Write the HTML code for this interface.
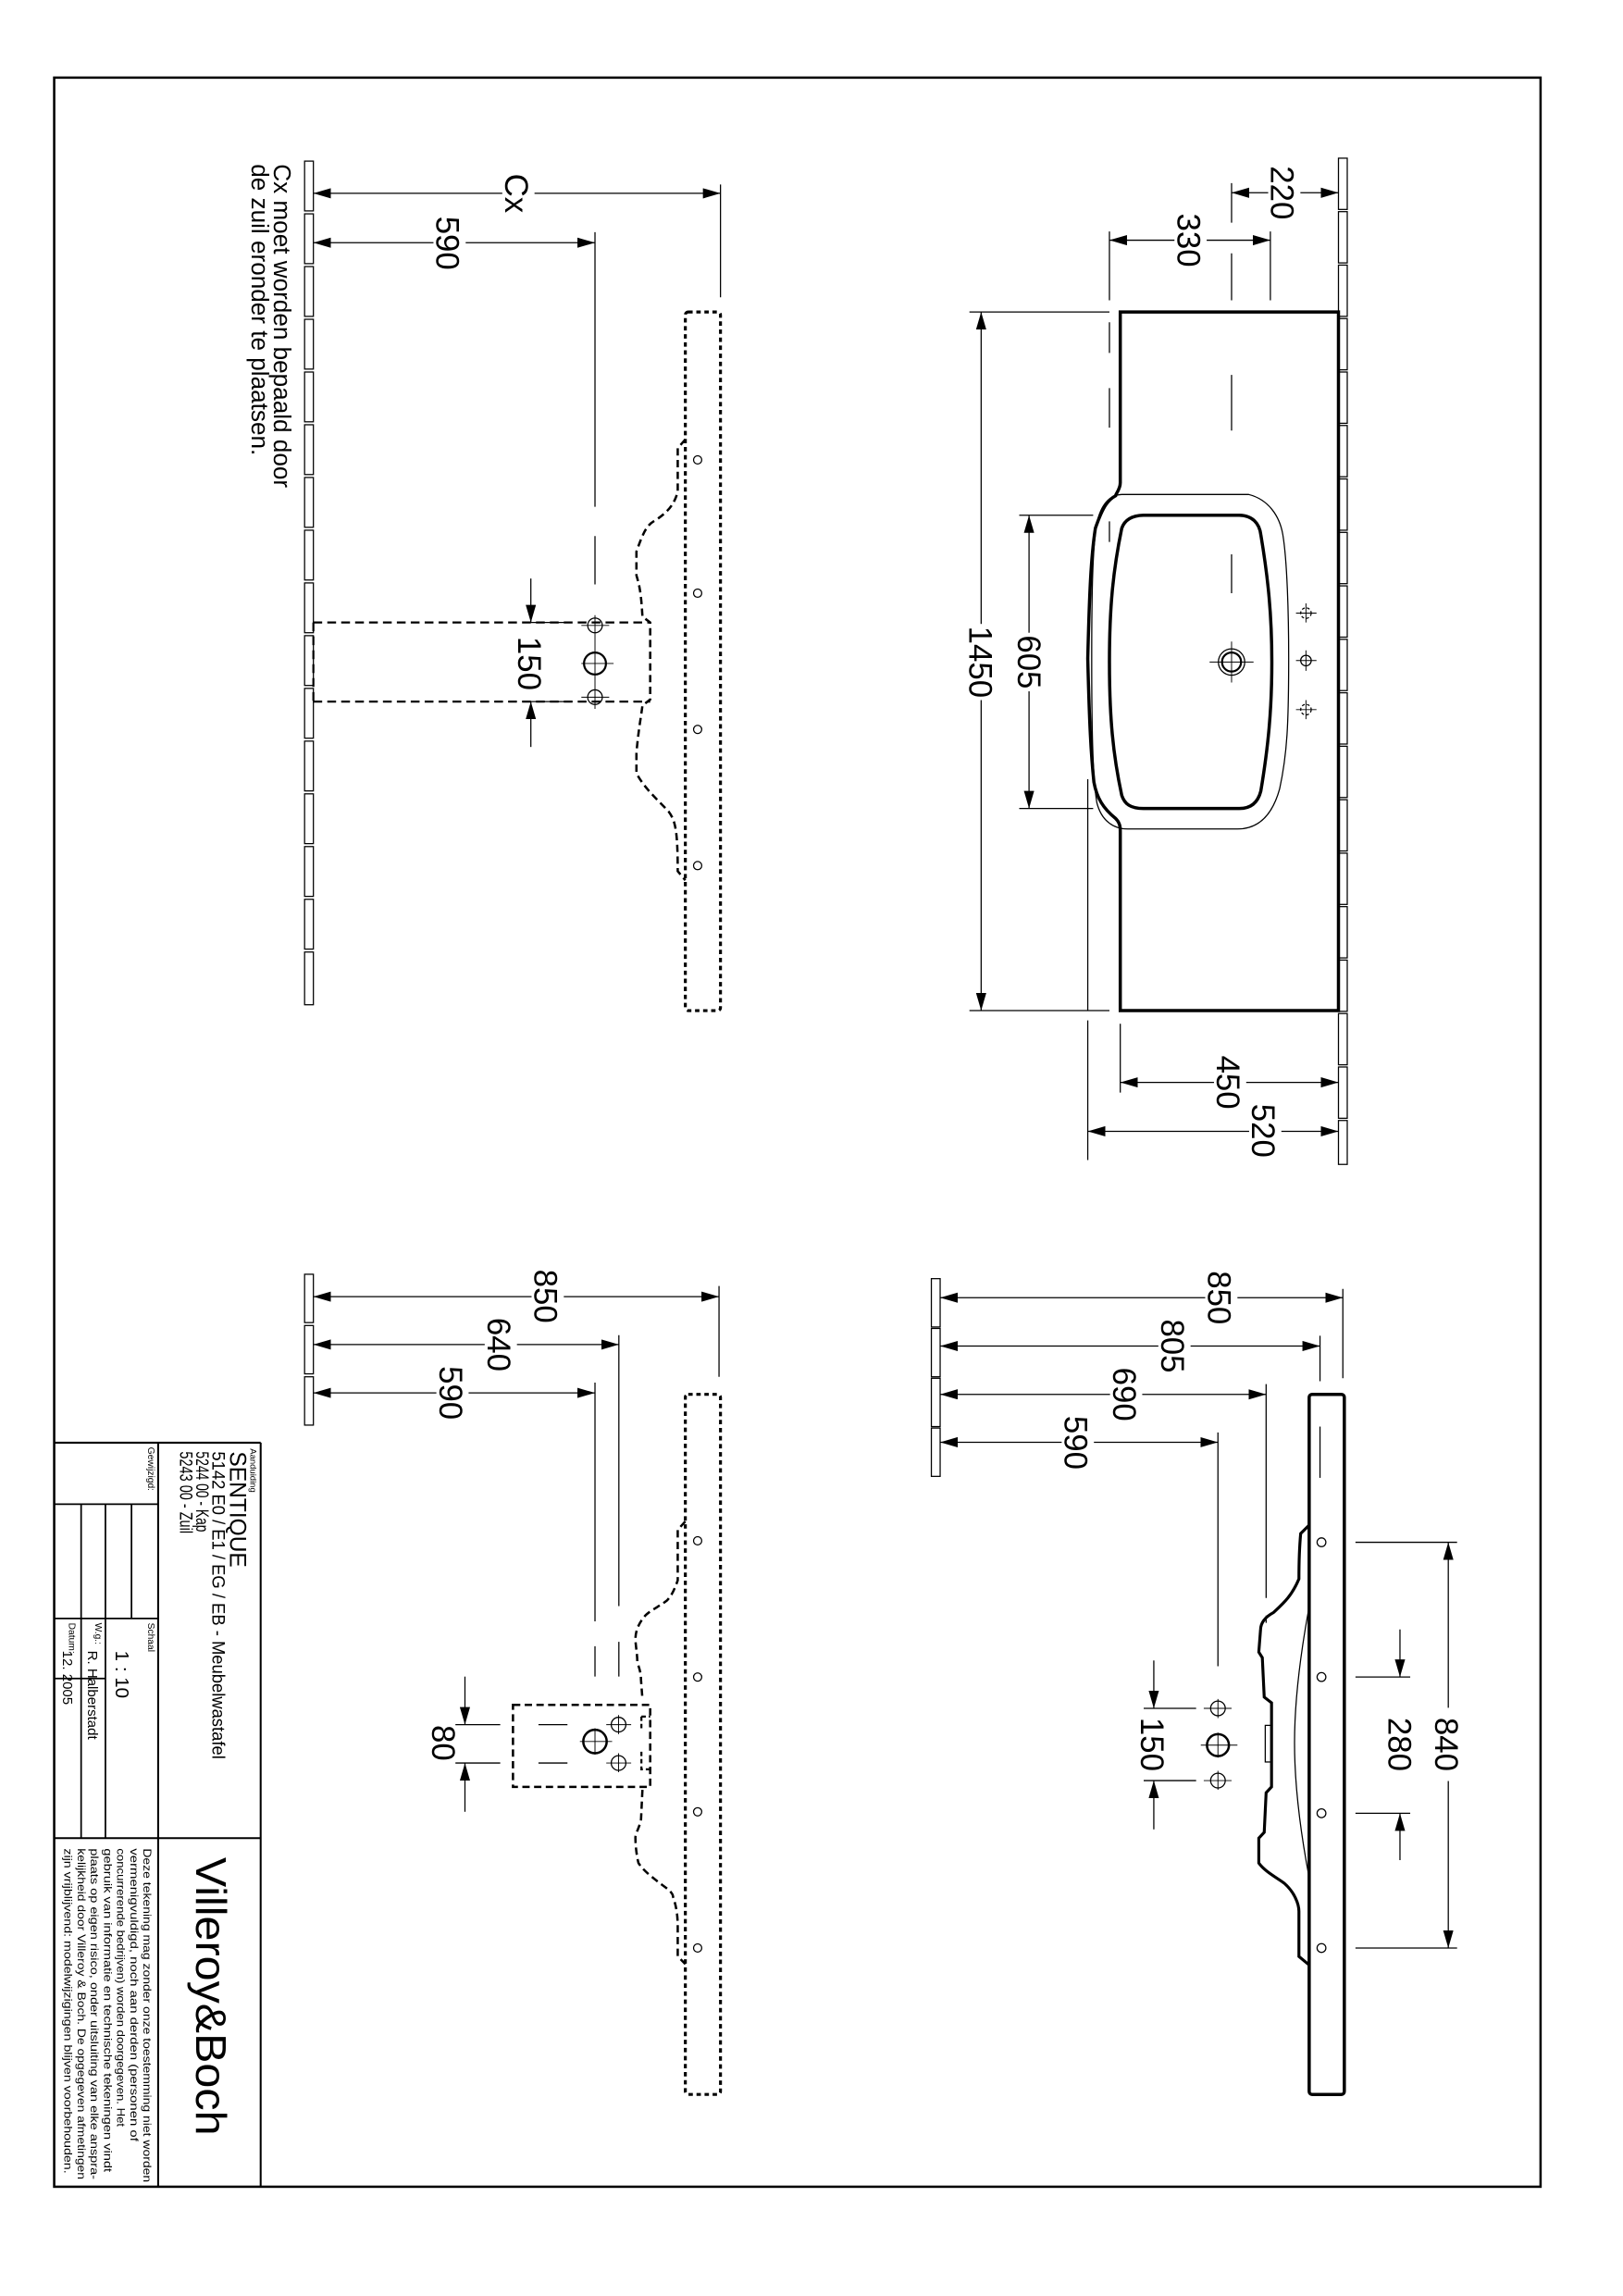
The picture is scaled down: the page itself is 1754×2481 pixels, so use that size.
<!DOCTYPE html>
<html><head><meta charset="utf-8"><style>
html,body{margin:0;padding:0;background:#fff}
svg{display:block}
text{font-family:"Liberation Sans",sans-serif;fill:#000}
</style></head><body>
<svg width="1754" height="2481" viewBox="0 0 1108.3 1567.6" preserveAspectRatio="none" xmlns="http://www.w3.org/2000/svg">
<defs>
<marker id="a" markerUnits="userSpaceOnUse" markerWidth="13" markerHeight="8" refX="12" refY="3.5" orient="auto-start-reverse"><path d="M0,0 L12,3.5 L0,7 z" fill="#000"/></marker>
</defs>
<g fill="none" stroke="#000" stroke-width="0.8">
<rect x="37" y="53" width="1015" height="1440" stroke-width="1.6"/>
<path d="M178,985 V1493 M37,985 H178 M108,985 V1493 M37,1255 H178" stroke-width="1.3"/>
<path d="M37,1027 H108 M37,1105 H108 M37,1146 H72 M89.8,1027 V1105 M72,1027 V1255 M55.4,1027 V1255" stroke-width="1.1"/>

<g>
<rect x="914" y="108" width="6" height="35"/><rect x="914" y="144.5" width="6" height="35"/><rect x="914" y="181" width="6" height="35"/><rect x="914" y="217.5" width="6" height="35"/><rect x="914" y="254" width="6" height="35"/><rect x="914" y="290.5" width="6" height="35"/><rect x="914" y="327" width="6" height="35"/><rect x="914" y="363.5" width="6" height="35"/><rect x="914" y="400" width="6" height="35"/><rect x="914" y="436.5" width="6" height="35"/><rect x="914" y="473" width="6" height="35"/><rect x="914" y="509.5" width="6" height="35"/><rect x="914" y="546" width="6" height="35"/><rect x="914" y="582.5" width="6" height="35"/><rect x="914" y="619" width="6" height="35"/><rect x="914" y="655.5" width="6" height="35"/><rect x="914" y="692" width="6" height="35"/><rect x="914" y="728.5" width="6" height="35"/><rect x="914" y="765" width="6" height="30"/>
</g>
<path d="M914,213 H765 V329.6 C765,334 762,337 761.8,338.5 C757,341 753.4,345 748,360.7 C745,380 743.9,405 742.8,449.7 C743.9,494 745,515 747,534 C749,545 753.4,552 761.8,558.8 C765,562 765,565 765,567.7 V690 H914 Z" stroke-width="2.2"/>
<path d="M766,337.6 H852.7 C866,341 873.8,352 876,365 C879,383 880,420 880,449 C880,494 879,515 873.8,538.7 C869,556 860,566 845,566 H770 C760,566 752,560 749,548 C746,530 745.5,494 745.5,450 C745.5,405 746,375 749,357 C752,344 758,338 766,337.6 Z" stroke-width="0.8"/>
<path d="M780.8,351.8 H846.3 C855,352 860,357 861,365.2 C866,395 868.5,420 868.5,452 C868.5,485 866,510 861,540 C859,548 854,552 846.3,552 H780.8 C772,552 768,549 766,543 C760,515 757.6,490 757.6,452 C757.6,415 760,390 766,360.7 C768,355 773,352 780.8,351.8 Z" stroke-width="2.2"/>
<circle cx="841" cy="452" r="9"/><circle cx="841" cy="452" r="6.5" stroke-width="1.4"/>
<path d="M826,452 H856 M841,438 V466" stroke-width="0.6"/>
<circle cx="891.8" cy="418.6" r="3.6" stroke-dasharray="2 1.5"/><circle cx="891.8" cy="451" r="3.6"/><circle cx="891.8" cy="484.5" r="3.6" stroke-dasharray="2 1.5"/>
<path d="M885,418.6 H899 M891.8,412 V425 M885,451 H899 M891.8,444 V458 M885,484.5 H899 M891.8,478 V491" stroke-width="0.6"/>
<path d="M841,125 V152 M841,173 V205 M841,256 V294 M841,378.5 V405 M867.5,158 V205 M757.6,158 V205 M757.6,220 V241 M757.6,265 V292 M757.6,356 V370" />
<path d="M662,213 H757.6 M662,690 H757.6 M696,351.8 H746.5 M696,552 H746.5 M765,699 V746 M742.8,532 V690 M742.8,696.7 V792"/>
<line x1="914" y1="131.6" x2="841" y2="131.6" marker-end="url(#a)" marker-start="url(#a)"/>
<line x1="757.6" y1="164" x2="867.5" y2="164" marker-end="url(#a)" marker-start="url(#a)"/>
<line x1="670" y1="213" x2="670" y2="690" marker-end="url(#a)" marker-start="url(#a)"/>
<line x1="702.7" y1="351.8" x2="702.7" y2="552" marker-end="url(#a)" marker-start="url(#a)"/>
<line x1="765" y1="739" x2="914" y2="739" marker-end="url(#a)" marker-start="url(#a)"/>
<line x1="742.8" y1="772.4" x2="914" y2="772.4" marker-end="url(#a)" marker-start="url(#a)"/>

<g>
<rect x="208" y="110" width="6" height="34"/><rect x="208" y="146" width="6" height="34"/><rect x="208" y="182" width="6" height="34"/><rect x="208" y="218" width="6" height="34"/><rect x="208" y="254" width="6" height="34"/><rect x="208" y="290" width="6" height="34"/><rect x="208" y="326" width="6" height="34"/><rect x="208" y="362" width="6" height="34"/><rect x="208" y="398" width="6" height="34"/><rect x="208" y="434" width="6" height="34"/><rect x="208" y="470" width="6" height="34"/><rect x="208" y="506" width="6" height="34"/><rect x="208" y="542" width="6" height="34"/><rect x="208" y="578" width="6" height="34"/><rect x="208" y="614" width="6" height="34"/><rect x="208" y="650" width="6" height="36"/>
</g>
<rect x="468" y="213" width="24" height="477" rx="2" stroke-width="2" stroke-dasharray="3 2.5"/>
<path d="M468,300 L462.8,306 V336 C460,345 456.5,349 448,355 C442,358 439.8,362 434.6,376.6 V392.8 C436,398 437.7,402 438.7,421 L444,425 V477.6 L438.7,481.7 C437.7,490 436,498 434.6,514 V528 C440,538 448,545 456.5,554 C461,560 462.8,566 462.8,594.8 L468,601" stroke-width="1.6" stroke-dasharray="5 3"/>
<path d="M214,425 H444 M214,479 H444 M214,425 V479" stroke-width="1.4" stroke-dasharray="6 3.5"/>
<circle cx="406.3" cy="427" r="5"/><circle cx="406.3" cy="453" r="7.5" stroke-width="1.4"/><circle cx="406.3" cy="476" r="5"/>
<path d="M397,427 H416 M397,453 H419 M397,476 H416 M406.3,420 V484" stroke-width="0.6"/>
<circle cx="476.4" cy="314" r="2.8"/><circle cx="476.4" cy="405" r="2.8"/><circle cx="476.4" cy="498" r="2.8"/><circle cx="476.4" cy="591" r="2.8"/>
<path d="M492,126 V203 M406.3,158.5 V346 M406.3,366 V399 M357,425 H389 M357,479 H389"/>
<line x1="214" y1="132" x2="492" y2="132" marker-end="url(#a)" marker-start="url(#a)"/>
<line x1="214" y1="165.7" x2="406.3" y2="165.7" marker-start="url(#a)" marker-end="url(#a)"/>
<line x1="362.5" y1="395" x2="362.5" y2="425" marker-end="url(#a)"/>
<line x1="362.5" y1="510" x2="362.5" y2="479" marker-end="url(#a)"/>

<rect x="208" y="870" width="6" height="33"/><rect x="208" y="905" width="6" height="33"/><rect x="208" y="940" width="6" height="33"/>
<rect x="468" y="952" width="24" height="478" rx="2" stroke-width="2" stroke-dasharray="3 2.5"/>
<path d="M468,1038.7 L462.8,1044.5 V1079 C460,1087 458,1090 455.5,1092.7 C450,1097 443,1100 439.8,1104 C435,1110 433.9,1115 433.9,1119.7 C434.5,1127 435.2,1130 435.2,1135 C437,1140 437.7,1143 437.7,1146.7 L438.7,1160 M438.7,1222 L437.7,1243 C436,1249 433.9,1252 433.9,1254.6 C434,1262 435,1268 436,1272 C440,1278 446,1282 450.2,1285.5 C455,1289 459.6,1292 459.6,1295 C462,1302 462.8,1308 462.8,1316 V1335.6 L468,1341" stroke-width="1.6" stroke-dasharray="5 3"/>
<rect x="350.3" y="1164" width="93.7" height="56" stroke-width="1.6" stroke-dasharray="5 3"/>
<path d="M438,1172 H444 M438,1172 V1180 M438,1196 V1208 H444" stroke-width="1.4" stroke-dasharray="3 2"/>
<path d="M367.7,1177.5 H387.5 M367.7,1203.7 H387.5"/>
<circle cx="406.3" cy="1189" r="8" stroke-width="1.6"/><circle cx="422.4" cy="1177.5" r="5"/><circle cx="422.4" cy="1203.7" r="5"/>
<path d="M396,1189 H418 M406.3,1180 V1198 M414,1177.5 H431 M422.4,1171 V1184 M414,1203.7 H431 M422.4,1197 V1210" stroke-width="0.6"/>
<circle cx="476.4" cy="1052" r="2.8"/><circle cx="476.4" cy="1145" r="2.8"/><circle cx="476.4" cy="1237" r="2.8"/><circle cx="476.4" cy="1330" r="2.8"/>
<path d="M491,878 V940 M422.6,911.6 V1096.6 M422.6,1121 V1144.7 M406.3,944 V1107 M406.3,1124 V1144.7 M311,1177.5 H341.6 M311,1203.7 H341.6"/>
<line x1="214" y1="885.3" x2="491" y2="885.3" marker-end="url(#a)" marker-start="url(#a)"/>
<line x1="214" y1="918" x2="422.6" y2="918" marker-end="url(#a)" marker-start="url(#a)"/>
<line x1="214" y1="951" x2="406.3" y2="951" marker-end="url(#a)" marker-start="url(#a)"/>
<line x1="317.5" y1="1144.7" x2="317.5" y2="1177.5" marker-end="url(#a)"/>
<line x1="317.5" y1="1237" x2="317.5" y2="1203.7" marker-end="url(#a)"/>

<rect x="636" y="873" width="6" height="33"/><rect x="636" y="907" width="6" height="33"/><rect x="636" y="941" width="6" height="33"/><rect x="636" y="975" width="6" height="33"/>
<rect x="894" y="952" width="24" height="478" rx="2" stroke-width="2.2"/>
<path d="M894,1041.3 L888.2,1047 C887,1060 887,1070 887,1078 C882,1090 876,1095 869.6,1101 C864,1104 861,1108 860.8,1112.5 L859.6,1128 L862,1131.8 L863.3,1158.7 L868.3,1162.6 L868.3,1220 L864.6,1224 L863.3,1251 L859.6,1255 V1272 C864,1278 872,1282 877,1285.8 C884,1292 887,1300 887,1305 V1335.8 L894,1341.6" stroke-width="2"/>
<path d="M894,1097 C886,1140 884,1170 884,1190 C884,1210 886,1240 894,1282"/>
<rect x="864" y="1178" width="4" height="25"/>
<circle cx="902.4" cy="1053" r="3"/><circle cx="902.4" cy="1145" r="3"/><circle cx="902.4" cy="1238" r="3"/><circle cx="902.4" cy="1330" r="3"/>
<path d="M901.4,974 V1009"/>
<circle cx="831.7" cy="1166.4" r="5"/><circle cx="831.7" cy="1191.5" r="7.5" stroke-width="1.6"/><circle cx="831.7" cy="1215.7" r="5"/>
<path d="M822,1166.4 H841 M831.7,1160 V1173 M820,1191.5 H845 M831.7,1183 V1200 M822,1215.7 H841 M831.7,1209 V1222" stroke-width="0.6"/>
<path d="M917,880 V941 M901.4,912 V943 M864.6,945 V1091 M864.6,1103 V1108 M831.7,978 V1137.6 M781,1166.4 H816.8 M781,1215.7 H816.8 M925.6,1145 H963 M925.6,1238 H963 M925.6,1053 H995 M925.6,1330 H995"/>
<line x1="642" y1="886" x2="917" y2="886" marker-end="url(#a)" marker-start="url(#a)"/>
<line x1="642" y1="919" x2="901.4" y2="919" marker-end="url(#a)" marker-start="url(#a)"/>
<line x1="642" y1="952" x2="864.6" y2="952" marker-end="url(#a)" marker-start="url(#a)"/>
<line x1="642" y1="984.7" x2="831.7" y2="984.7" marker-end="url(#a)" marker-start="url(#a)"/>
<line x1="787.9" y1="1133.7" x2="787.9" y2="1166.4" marker-end="url(#a)"/>
<line x1="787.9" y1="1249" x2="787.9" y2="1215.7" marker-end="url(#a)"/>
<line x1="956" y1="1112.5" x2="956" y2="1145" marker-end="url(#a)"/>
<line x1="956" y1="1270" x2="956" y2="1238" marker-end="url(#a)"/>
<line x1="989" y1="1053" x2="989" y2="1330" marker-end="url(#a)" marker-start="url(#a)"/>
</g>

<g fill="#fff">
<rect x="866" y="115" width="22" height="34"/><rect x="802" y="146" width="22" height="36"/>
<rect x="658" y="426" width="24" height="52"/><rect x="693" y="432" width="22" height="40"/>
<rect x="829" y="721" width="22" height="36"/><rect x="853" y="754" width="22" height="36"/>
<rect x="343" y="118" width="22" height="28"/><rect x="296" y="148" width="22" height="36"/>
<rect x="363" y="867" width="22" height="36"/><rect x="331" y="900" width="22" height="36"/><rect x="298" y="933" width="22" height="36"/>
<rect x="823" y="868" width="22" height="36"/><rect x="791" y="901" width="22" height="36"/><rect x="758" y="934" width="22" height="36"/><rect x="725" y="967" width="22" height="36"/>
<rect x="978" y="1166" width="22" height="50"/>
</g>
<g font-size="22" text-anchor="middle">
<text transform="translate(868,131.6) rotate(90)">220</text>
<text transform="translate(804,164) rotate(90)">330</text>
<text transform="translate(662,452) rotate(90)">1450</text>
<text transform="translate(695,452) rotate(90)">605</text>
<text transform="translate(831,739) rotate(90)">450</text>
<text transform="translate(855,772) rotate(90)">520</text>
<text transform="translate(345,132) rotate(90)">Cx</text>
<text transform="translate(298,166) rotate(90)">590</text>
<text transform="translate(354,453) rotate(90)">150</text>
<text transform="translate(365,885) rotate(90)">850</text>
<text transform="translate(333,918) rotate(90)">640</text>
<text transform="translate(300,951) rotate(90)">590</text>
<text transform="translate(295,1190) rotate(90)">80</text>
<text transform="translate(825,886) rotate(90)">850</text>
<text transform="translate(793,919) rotate(90)">805</text>
<text transform="translate(760,952) rotate(90)">690</text>
<text transform="translate(727,985) rotate(90)">590</text>
<text transform="translate(779,1191) rotate(90)">150</text>
<text transform="translate(948,1191) rotate(90)">280</text>
<text transform="translate(980,1191) rotate(90)">840</text>
</g>
<g font-size="16.5">
<text transform="translate(187,112) rotate(90)">Cx moet worden bepaald door</text>
<text transform="translate(172,112) rotate(90)">de zuil eronder te plaatsen.</text>
</g>
<text transform="translate(171,989) rotate(90)" font-size="6">Aanduiding</text>
<text transform="translate(157,991) rotate(90)" font-size="15.5">SENTIQUE</text>
<text transform="translate(145,991) rotate(90)" font-size="12.5" textLength="210" lengthAdjust="spacingAndGlyphs">5142 E0 / E1 / EG / EB - Meubelwastafel</text>
<text transform="translate(134,991) rotate(90)" font-size="12.5" textLength="55" lengthAdjust="spacingAndGlyphs">5244 00 - Kap</text>
<text transform="translate(123,991) rotate(90)" font-size="12.5" textLength="56" lengthAdjust="spacingAndGlyphs">5243 00 - Zuil</text>
<text transform="translate(101,988) rotate(90)" font-size="6.5">Gewijzigd:</text>
<text transform="translate(101,1108) rotate(90)" font-size="6.5">Schaal</text>
<text transform="translate(79,1127) rotate(90)" font-size="13">1 : 10</text>
<text transform="translate(65,1108) rotate(90)" font-size="6.5">W.g.:</text>
<text transform="translate(60,1127) rotate(90)" font-size="9.5">R. Halberstadt</text>
<text transform="translate(47,1108) rotate(90)" font-size="6.5">Datum:</text>
<text transform="translate(43,1127) rotate(90)" font-size="9.5">12. 2005</text>
<text transform="translate(134,1268) rotate(90)" font-size="29" textLength="190" lengthAdjust="spacingAndGlyphs">Villeroy&amp;Boch</text>
<g font-size="7.8">
<text transform="translate(98,1262) rotate(90)" textLength="228" lengthAdjust="spacingAndGlyphs">Deze tekening mag zonder onze toestemming niet worden</text>
<text transform="translate(89,1262) rotate(90)" textLength="200" lengthAdjust="spacingAndGlyphs">vermenigvuldigd, noch aan derden  (personen of</text>
<text transform="translate(80,1262) rotate(90)" textLength="190" lengthAdjust="spacingAndGlyphs">concurrerende bedrijven) worden doorgegeven. Het</text>
<text transform="translate(71,1262) rotate(90)" textLength="221" lengthAdjust="spacingAndGlyphs">gebruik van informatie en technische tekeningen  vindt</text>
<text transform="translate(62,1262) rotate(90)" textLength="226" lengthAdjust="spacingAndGlyphs">plaats op eigen risico, onder uitsluiting van elke anspra-</text>
<text transform="translate(53,1262) rotate(90)" textLength="226" lengthAdjust="spacingAndGlyphs">kelijkheid door Villeroy &amp; Boch. De opgegeven afmetingen</text>
<text transform="translate(44,1262) rotate(90)" textLength="222" lengthAdjust="spacingAndGlyphs">zijn vrijblijvend: modelwijzigingen blijven voorbehouden.</text>
</g>
</svg>
</body></html>
